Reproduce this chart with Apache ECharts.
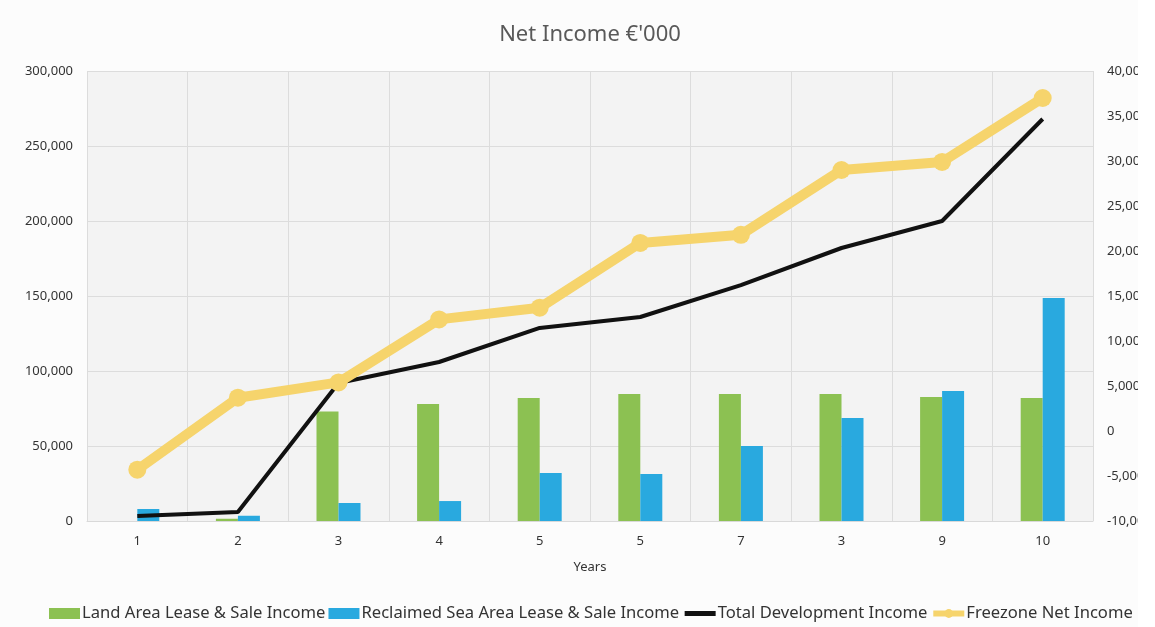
<!DOCTYPE html>
<html>
<head>
<meta charset="utf-8">
<script src="https://cdn.jsdelivr.net/npm/echarts@6/dist/echarts.min.js"></script>
<style>
  html, body { margin: 0; padding: 0; background: #ffffff; }
  #chart { width: 1138px; height: 627px; }
</style>
</head>
<body>
<div id="chart"></div>
<script>
// values
var years = ['1', '2', '3', '4', '5', '5', '7', '3', '9', '10'];
var landIncome = [0, 1500, 73000, 78000, 82000, 84700, 84700, 84700, 82700, 82000];
var seaIncome = [8000, 3500, 12000, 13300, 32000, 31300, 50000, 68700, 86700, 148700];
var totalDev = [3300, 6000, 92000, 106000, 128700, 136000, 157300, 182000, 200000, 268000];
var freezoneNet = [-4300, 3700, 5400, 12400, 13700, 20900, 21800, 29000, 29900, 37000];

var fmt = function (v) { return echarts.format.addCommas(v); };
var txt = { fontFamily: 'Noto Sans', color: '#333', fontSize: 13 };

var chart = echarts.init(document.getElementById('chart'));

chart.setOption({
  backgroundColor: '#fcfcfc',
  animation: false,
  title: {
    text: "Net Income €'000",
    left: 585,
    textAlign: 'center',
    top: 19,
    textStyle: { fontFamily: 'Noto Sans', fontSize: 22, fontWeight: 'normal', color: '#595959' }
  },
  legend: {
    left: 44,
    bottom: 0,
    width: 1300,
    itemGap: 3,
    itemWidth: 31,
    itemHeight: 11,
    textStyle: { fontFamily: 'Noto Sans', fontSize: 16.6, color: '#333', padding: [0, 0, 0, -3] },
    data: [
      { name: 'Land Area Lease & Sale Income', icon: 'rect' },
      { name: 'Reclaimed Sea Area Lease & Sale Income', icon: 'rect' },
      { name: 'Total Development Income', itemStyle: { opacity: 0 }, lineStyle: { width: 5 } },
      { name: 'Freezone Net Income', lineStyle: { width: 6 } }
    ]
  },
  grid: {
    left: 87,
    right: 45,
    top: 71,
    bottom: 106,
    show: true,
    backgroundColor: '#f3f3f3',
    borderWidth: 0,
    outerBoundsMode: 'none'
  },
  xAxis: {
    type: 'category',
    data: years,
    name: 'Years',
    nameLocation: 'middle',
    nameGap: 40,
    nameTextStyle: txt,
    axisTick: { show: false },
    axisLine: { lineStyle: { color: '#d9d9d9' } },
    axisLabel: Object.assign({ margin: 14 }, txt),
    splitLine: { show: true, lineStyle: { color: '#dcdcdc' } }
  },
  yAxis: [
    {
      type: 'value',
      min: 0,
      max: 300000,
      interval: 50000,
      axisLabel: Object.assign({ formatter: fmt, margin: 14 }, txt),
      splitLine: { lineStyle: { color: '#dcdcdc' } }
    },
    {
      type: 'value',
      min: -10000,
      max: 40000,
      interval: 5000,
      axisLabel: Object.assign({ formatter: fmt, margin: 14 }, txt),
      splitLine: { show: false }
    }
  ],
  series: [
    {
      name: 'Land Area Lease & Sale Income',
      type: 'bar',
      data: landIncome,
      barWidth: 22,
      barGap: '0%',
      itemStyle: { color: '#8cc152' }
    },
    {
      name: 'Reclaimed Sea Area Lease & Sale Income',
      type: 'bar',
      data: seaIncome,
      barWidth: 22,
      itemStyle: { color: '#29a9df' }
    },
    {
      name: 'Total Development Income',
      type: 'line',
      data: totalDev,
      symbol: 'none',
      lineStyle: { color: '#111', width: 4 },
      itemStyle: { color: '#111' }
    },
    {
      name: 'Freezone Net Income',
      type: 'line',
      yAxisIndex: 1,
      data: freezoneNet,
      symbol: 'circle',
      symbolSize: 18,
      lineStyle: { color: '#f6d46c', width: 10 },
      itemStyle: { color: '#f6d46c' }
    }
  ]
});
</script>
</body>
</html>
